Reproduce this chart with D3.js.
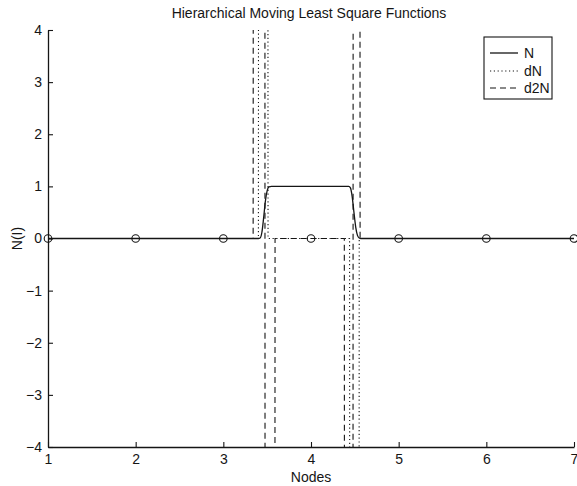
<!DOCTYPE html>
<html>
<head>
<meta charset="utf-8">
<script src="https://cdn.jsdelivr.net/npm/d3@7"></script>
<style>
  html, body { margin: 0; padding: 0; background: #fff; }
  svg { display: block; font-family: "Liberation Sans", Arial, Helvetica, sans-serif; }
</style>
</head>
<body>
<svg id="chart" width="577" height="486"></svg>
<script>
// ---- data ----
const xTicks = [1, 2, 3, 4, 5, 6, 7];
const yTicks = [-4, -3, -2, -1, 0, 1, 2, 3, 4];
const nodesX = [1, 2, 3, 4, 5, 6, 7];
const nodesY = [0, 0, 0, 0, 0, 0, 0];

// N (shape function)
const nX = [1, 3.40, 3.42, 3.44, 3.46, 3.48, 3.50, 3.52, 3.55, 4.43, 4.45, 4.47, 4.49, 4.51, 4.53, 4.55, 4.57, 7];
const nY = [0, 0, 0.01, 0.12, 0.40, 0.72, 0.92, 0.99, 1, 1, 0.97, 0.80, 0.50, 0.22, 0.06, 0.01, 0, 0];

// dN (first derivative, spikes run off the axes)
const dnX = [1, 3.40, 3.41, 3.50, 3.51, 4.44, 4.45, 4.54, 4.55, 7];
const dnY = [0, 0, 40, 40, 0, 0, -40, -40, 0, 0];

// d2N (second derivative, spikes run off the axes)
const d2nX = [1, 3.34, 3.35, 3.47, 3.48, 3.58, 3.59, 4.38, 4.39, 4.475, 4.485, 4.55, 4.56, 7];
const d2nY = [0, 0, 40, 40, -40, -40, 0, 0, -40, -40, 40, 40, 0, 0];

const seriesNames = ["N", "dN", "d2N"];
const titleText = "Hierarchical Moving Least Square Functions";
const xLabel = "Nodes";
const yLabel = "N(I)";

// ---- drawing ----
(function () {
const svg = d3.select("#chart");
const ink = "#151515";
const mL = 48, mR = 574, mT = 30, mB = 447;
const x = d3.scaleLinear().domain([1, 7]).range([mL, mR]);
const y = d3.scaleLinear().domain([-4, 4]).range([mB, mT]);

svg.append("defs").append("clipPath").attr("id", "plotclip")
  .append("rect").attr("x", mL).attr("y", mT)
  .attr("width", mR - mL).attr("height", mB - mT);

const plot = svg.append("g").attr("clip-path", "url(#plotclip)");
const zip = (xs, ys) => xs.map((v, i) => [v, ys[i]]);
const line = d3.line().x(d => x(d[0])).y(d => y(d[1]));

plot.append("path").datum(zip(d2nX, d2nY)).attr("d", line)
  .attr("fill", "none").attr("stroke", ink).attr("stroke-width", 1.1)
  .attr("stroke-dasharray", "6,4");
plot.append("path").datum(zip(dnX, dnY)).attr("d", line)
  .attr("fill", "none").attr("stroke", ink).attr("stroke-width", 1.1)
  .attr("stroke-dasharray", "1.2,2.6");
plot.append("path").datum(zip(nX, nY)).attr("d", d3.line().x(d => x(d[0])).y(d => y(d[1])).curve(d3.curveMonotoneX))
  .attr("fill", "none").attr("stroke", ink).attr("stroke-width", 1.3);

svg.append("g").selectAll("circle").data(zip(nodesX, nodesY)).join("circle")
  .attr("cx", d => x(d[0])).attr("cy", d => y(d[1])).attr("r", 3.8)
  .attr("fill", "none").attr("stroke", ink).attr("stroke-width", 1.1);

// axes
const fmt = d => d < 0 ? "\u2212" + Math.abs(d) : String(d);
const gx = svg.append("g").attr("transform", `translate(0,${mB})`)
  .call(d3.axisBottom(x).tickValues(xTicks).tickFormat(fmt).tickSizeInner(-5).tickSizeOuter(0).tickPadding(7));
const gy = svg.append("g").attr("transform", `translate(${mL},0)`)
  .call(d3.axisLeft(y).tickValues(yTicks).tickFormat(fmt).tickSizeInner(-5).tickSizeOuter(0).tickPadding(6));
[gx, gy].forEach(g => {
  g.select(".domain").attr("stroke", ink).attr("stroke-width", 1.3);
  g.selectAll(".tick line").attr("stroke", ink).attr("stroke-width", 1.1);
  g.selectAll(".tick text").attr("fill", ink).attr("font-size", 14).attr("font-family", "Liberation Sans, Arial, sans-serif");
});

// title & labels
svg.append("text").attr("x", (mL + mR) / 2 - 2).attr("y", 18).attr("text-anchor", "middle")
  .attr("font-size", 14).attr("fill", ink).text(titleText);
svg.append("text").attr("x", (mL + mR) / 2).attr("y", 482).attr("text-anchor", "middle")
  .attr("font-size", 14).attr("fill", ink).text(xLabel);
svg.append("text").attr("transform", `translate(22,${y(0)}) rotate(-90)`).attr("text-anchor", "middle")
  .attr("font-size", 14).attr("fill", ink).text(yLabel);

// legend
const lg = svg.append("g");
lg.append("rect").attr("x", 484).attr("y", 37).attr("width", 68).attr("height", 62)
  .attr("fill", "#fff").attr("stroke", ink).attr("stroke-width", 1.1);
const dashes = [null, "1.2,2.6", "6,4"];
const ly = [53, 71, 88];
seriesNames.forEach((name, i) => {
  lg.append("line").attr("x1", 490).attr("x2", 518).attr("y1", ly[i]).attr("y2", ly[i])
    .attr("stroke", ink).attr("stroke-width", i === 0 ? 1.3 : 1.1)
    .attr("stroke-dasharray", dashes[i]);
  lg.append("text").attr("x", 524).attr("y", ly[i]).attr("dy", "0.35em")
    .attr("font-size", 14).attr("fill", ink).text(name);
});
})();
</script>
</body>
</html>
